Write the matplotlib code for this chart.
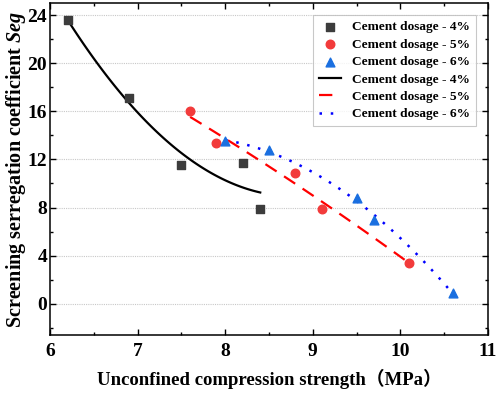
import numpy as np
import matplotlib
matplotlib.use("Agg")
import matplotlib.pyplot as plt
from matplotlib.ticker import MultipleLocator

x4 = [6.2, 6.9, 7.5, 8.2, 8.4]
y4 = [23.6, 17.1, 11.5, 11.7, 7.9]
x5 = [7.6, 7.9, 8.8, 9.1, 10.1]
y5 = [16.0, 13.4, 10.9, 7.9, 3.4]
x6 = [8.0, 8.5, 9.5, 9.7, 10.6]
y6 = [13.5, 12.8, 8.8, 7.0, 0.9]
labels = ["Cement dosage - 4%", "Cement dosage - 5%", "Cement dosage - 6%"]

serif = ['Liberation Serif', 'Noto Sans CJK SC']
plt.rcParams['font.family'] = serif
plt.rcParams['font.weight'] = 'bold'
plt.rcParams['mathtext.fontset'] = 'custom'
plt.rcParams['mathtext.rm'] = 'Liberation Serif:bold'
plt.rcParams['mathtext.it'] = 'Liberation Serif:italic:bold'
plt.rcParams['mathtext.bf'] = 'Liberation Serif:bold'
plt.rcParams['mathtext.bfit'] = 'Liberation Serif:italic:bold'

fig = plt.figure(figsize=(4.98, 3.93), dpi=100)
ax = fig.add_axes([0.1004, 0.1476, 0.8795, 0.8444])

c4, c5, c6 = '#3c3c3c', '#f23b3b', '#1a6fe0'
ax.scatter(x4, y4, marker='s', s=30, color=c4, zorder=3, label=labels[0])
ax.scatter(x5, y5, marker='o', s=38, color=c5, zorder=3, label=labels[1])
ax.scatter(x6, y6, marker='^', s=40, color=c6, zorder=3, label=labels[2])

def fit(xs, ys, deg):
    p = np.polyfit(xs, ys, deg)
    xx = np.linspace(min(xs), max(xs), 100)
    return xx, np.polyval(p, xx)

xx, yy = fit(x4, y4, 2)
ax.plot(xx, yy, color='black', lw=1.6, label=labels[0])
xx, yy = fit(x5, y5, 2)
ax.plot(xx, yy, color='red', lw=1.6, ls=(0, (6, 4)), label=labels[1])
xx, yy = fit(x6, y6, 2)
ax.plot(xx, yy, color='blue', lw=1.8, ls=(0, (1, 3.5)), label=labels[2])

ax.set_xlim(6, 11)
ax.set_ylim(-2.6, 25)
ax.xaxis.set_major_locator(MultipleLocator(1))
ax.xaxis.set_minor_locator(MultipleLocator(0.5))
ax.yaxis.set_major_locator(MultipleLocator(4))
ax.yaxis.set_minor_locator(MultipleLocator(2))
ax.tick_params(which='both', direction='in', top=True, right=True, labeltop=False, labelright=False)
ax.tick_params(which='major', length=4, width=1)
ax.tick_params(which='minor', length=2.5, width=1)
ax.tick_params(axis='both', labelsize=14)
ax.tick_params(axis='x', pad=6)
ax.tick_params(axis='y', pad=2)
for lab in ax.get_xticklabels() + ax.get_yticklabels():
    lab.set_fontweight('bold')
ax.grid(axis='y', which='major', color='#c8c8c8', ls=(0, (1, 1)), lw=0.8)
for s in ax.spines.values():
    s.set_linewidth(1.1)

ax.set_xlabel('Unconfined compression strength（MPa）', fontsize=13.5, fontweight='bold', labelpad=6)
ax.set_ylabel('Screening serregation coefficient $\\mathbfit{Seg}$', fontsize=14.5, fontweight='bold', labelpad=0)

leg = ax.legend(loc='upper right', frameon=True, fancybox=False,
                edgecolor='#bbbbbb', handlelength=1.7, borderpad=0.45, labelspacing=0.38,
                handletextpad=0.8, borderaxespad=0.9,
                prop={'family': serif, 'weight': 'bold', 'size': 9.6})
leg.get_frame().set_linewidth(0.8)

fig.savefig('out.png', dpi=100)
